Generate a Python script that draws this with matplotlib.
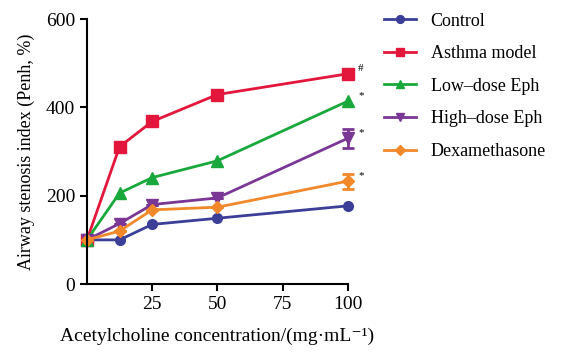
import matplotlib
matplotlib.use("Agg")
import matplotlib.pyplot as plt
from matplotlib.lines import Line2D

plt.rcParams['font.family'] = ['Liberation Serif', 'DejaVu Serif']

x = [0, 12.5, 25, 50, 100]
labels = ['Control', 'Asthma model', 'Low\u2013dose Eph', 'High\u2013dose Eph', 'Dexamethasone']
control = [100, 100, 135, 149, 177]
asthma = [100, 311, 368, 429, 476]
low_eph = [100, 206, 241, 279, 414]
high_eph = [100, 137, 180, 195, 330]
dexa = [100, 120, 168, 174, 233]
asthma_err = [0, 0, 9, 0, 0]
high_err = [0, 0, 0, 0, 22]
dexa_err = [0, 0, 0, 0, 17]
marks = ['#', '*', '*', '*']

series = [control, asthma, low_eph, high_eph, dexa]
errs = [None, asthma_err, None, high_err, dexa_err]
colors = ['#3b3f98', '#e3173b', '#18a83c', '#7a3795', '#f1882a']
markers = ['o', 's', '^', 'v', 'D']
msizes = [7, 8, 8, 8, 6]

fig = plt.figure(figsize=(5.61, 3.52), dpi=100)
ax = fig.add_axes([0.155, 0.193, 0.465, 0.753])

handles = []
for y, e, c, m, ms, lab in zip(series, errs, colors, markers, msizes, labels):
    ax.errorbar(x, y, yerr=e, color=c, marker=m, markersize=ms, linewidth=2,
                capsize=4, elinewidth=2, capthick=2, clip_on=False)
    handles.append(Line2D([], [], color=c, marker=m, markersize=ms * 0.8,
                          linewidth=2, label=lab))

# significance marks next to last points
for y, t in zip([asthma, low_eph, high_eph, dexa], marks):
    ax.text(104, y[-1] + 12, t, fontsize=8, va='center')

ax.set_xlim(0, 100)
ax.set_ylim(0, 600)
ax.set_xticks([25, 50, 75, 100])
ax.set_yticks([0, 200, 400, 600])
ax.tick_params(labelsize=14, width=1.5, length=5)
ax.spines['top'].set_visible(False)
ax.spines['right'].set_visible(False)
ax.spines['left'].set_linewidth(1.5)
ax.spines['bottom'].set_linewidth(1.5)
ax.set_xlabel('Acetylcholine concentration/(mg\u00b7mL\u207b\u00b9)', fontsize=14, labelpad=11)
ax.set_ylabel('Airway stenosis index (Penh, %)', fontsize=13, labelpad=8)

ax.legend(handles=handles, loc='upper left', bbox_to_anchor=(1.075, 1.085), frameon=False,
          fontsize=13, handlelength=1.8, labelspacing=0.86, handletextpad=0.8)

fig.savefig('out.png', dpi=100)
